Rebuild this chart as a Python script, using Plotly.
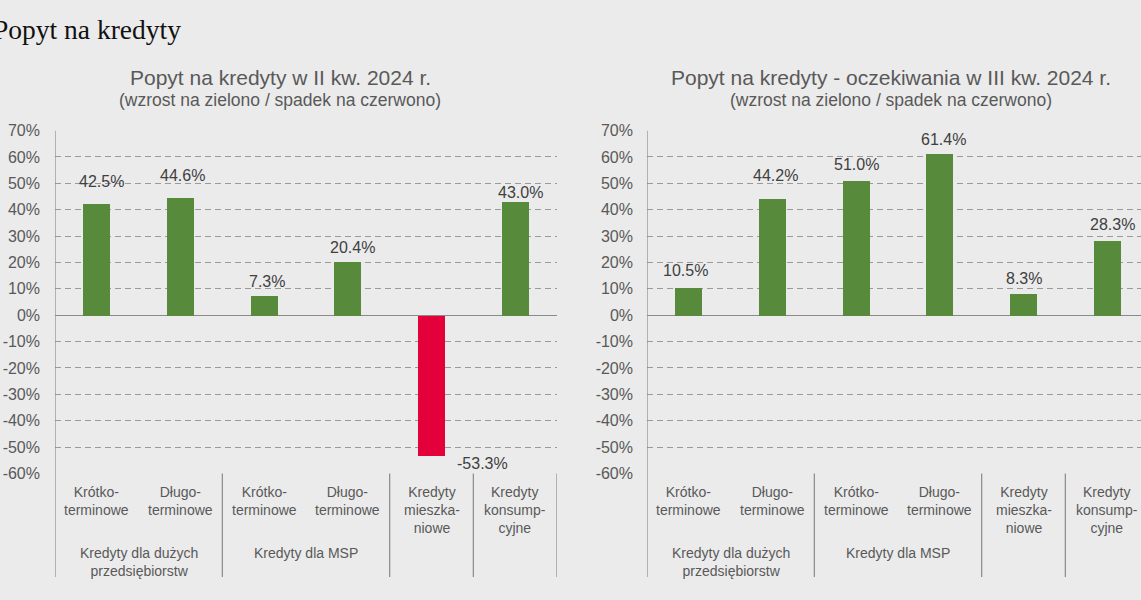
import plotly.graph_objects as go

# ---- data ----
categories = ["Krótko-<br>terminowe", "Długo-<br>terminowe", "Krótko-<br>terminowe",
              "Długo-<br>terminowe", "Kredyty<br>mieszka-<br>niowe", "Kredyty<br>konsump-<br>cyjne"]
groups = ["Kredyty dla dużych<br>przedsiębiorstw", "Kredyty dla MSP"]
group_centers = [0.5, 2.5]
dividers = [-0.5, 1.5, 3.5, 4.5, 5.5]
q2_values = [42.5, 44.6, 7.3, 20.4, -53.3, 43.0]
q3_values = [10.5, 44.2, 51.0, 61.4, 8.3, 28.3]
tick_vals = [70, 60, 50, 40, 30, 20, 10, 0, -10, -20, -30, -40, -50, -60]
tick_text = [f"{v}%" for v in tick_vals]

# ---- styling (label offsets in pixels, as placed in the original) ----
q2_label_shift = [(5, 21), (2, 21), (3, 14), (5, 13), (51, -8), (5, 9)]
q3_label_shift = [(-3, 16), (3, 22), (0, 16), (4, 13), (0, 14), (5, 16)]

GREEN = "#588a3c"
RED = "#e4003a"
BG = "#ebebeb"
GRID = "#9a9a9a"
AXIS = "#8a8a8a"
TXT = "#595959"
VAL = "#404040"
FONT = "Liberation Sans, Arial, sans-serif"

W, H = 1141, 600
VS = 0.9667  # vertical compensation observed in the rendered page


def yp(px):
    """target pixel row -> paper fraction"""
    return 1 - ((px - 10) / VS) / H


y_top_px, y_bot_px, lab_bot_px = 132, 473, 576
ydom = [yp(y_bot_px), yp(y_top_px)]
left_dom = [55 / W, 557 / W]
cat_w = (557 - 55) / 6
right_start = 647
right_dom = [right_start / W, 1.0]
right_range_end = -0.5 + (W - right_start) / cat_w

fig = go.Figure()
xs = list(range(len(categories)))
fig.add_trace(go.Bar(x=xs, y=q2_values, width=0.323,
                     marker_color=[GREEN if v >= 0 else RED for v in q2_values],
                     marker_line_width=0,
                     xaxis="x", yaxis="y", showlegend=False, hoverinfo="skip"))
fig.add_trace(go.Bar(x=xs, y=q3_values, width=0.323,
                     marker_color=[GREEN if v >= 0 else RED for v in q3_values],
                     marker_line_width=0,
                     xaxis="x2", yaxis="y2", showlegend=False, hoverinfo="skip"))

yaxis_common = dict(range=[-60, 70], tickvals=tick_vals, ticktext=tick_text,
                    showgrid=True, gridcolor=GRID, griddash="6px,4px", gridwidth=1,
                    zeroline=True, zerolinecolor=AXIS, zerolinewidth=1.2,
                    showline=False, ticks="",
                    tickfont=dict(family=FONT, size=16, color=TXT), domain=ydom)
xaxis_common = dict(showticklabels=False, showgrid=False, zeroline=False, showline=False, ticks="")

fig.update_layout(
    width=W, height=H, autosize=False,
    margin=dict(l=0, r=0, t=0, b=0, pad=0),
    paper_bgcolor=BG, plot_bgcolor=BG,
    bargap=0,
    xaxis=dict(domain=left_dom, range=[-0.5, 5.5], **xaxis_common),
    yaxis=dict(anchor="x", ticklabelstandoff=14, **yaxis_common),
    xaxis2=dict(domain=right_dom, range=[-0.5, right_range_end], anchor="y2", **xaxis_common),
    yaxis2=dict(anchor="x2", ticklabelstandoff=13, **yaxis_common),
    font=dict(family=FONT, color=TXT),
)

shapes = []
annotations = []
for xa, ya in [("x", "y"), ("x2", "y2")]:
    shapes.append(dict(type="line", xref=xa, yref="paper", x0=-0.5, x1=-0.5,
                       y0=yp(lab_bot_px), y1=ydom[1], line=dict(color=AXIS, width=1.2)))
    for d in dividers[1:]:
        shapes.append(dict(type="line", xref=xa, yref="paper", x0=d, x1=d,
                           y0=yp(lab_bot_px), y1=ydom[0], line=dict(color=AXIS, width=1.2)))
    for i, c in enumerate(categories):
        annotations.append(dict(x=i, y=yp(482), xref=xa, yref="paper", text=c,
                                showarrow=False, xanchor="center", yanchor="top", align="center",
                                font=dict(family=FONT, size=14, color=TXT)))
    for gc, g in zip(group_centers, groups):
        annotations.append(dict(x=gc, y=yp(542), xref=xa, yref="paper", text=g,
                                showarrow=False, xanchor="center", yanchor="top", align="center",
                                font=dict(family=FONT, size=14, color=TXT)))

# value labels
for xa, ya, vals, shifts in [("x", "y", q2_values, q2_label_shift),
                             ("x2", "y2", q3_values, q3_label_shift)]:
    for i, v in enumerate(vals):
        dx, dy = shifts[i]
        annotations.append(dict(x=i, y=v, xref=xa, yref=ya, text=f"{v:.1f}%",
                                showarrow=False, xanchor="center", yanchor="middle",
                                xshift=dx, yshift=dy / VS,
                                font=dict(family=FONT, size=16, color=VAL)))

# titles
for cx, title in [(280, "Popyt na kredyty w II kw. 2024 r."),
                  (891, "Popyt na kredyty - oczekiwania w III kw. 2024 r.")]:
    annotations.append(dict(x=cx / W, y=yp(79), xref="paper", yref="paper",
                            xanchor="center", yanchor="middle",
                            text=title, showarrow=False,
                            font=dict(family=FONT, size=21, color=TXT)))
    annotations.append(dict(x=cx / W, y=yp(102), xref="paper", yref="paper",
                            xanchor="center", yanchor="middle",
                            text="(wzrost na zielono / spadek na czerwono)", showarrow=False,
                            font=dict(family=FONT, size=17.5, color=TXT)))
annotations.append(dict(x=183 / W, y=yp(31), xref="paper", yref="paper",
                        xanchor="right", yanchor="middle",
                        text="Popyt na kredyty", showarrow=False,
                        font=dict(family="Liberation Serif, Times New Roman, serif", size=27.5,
                                  color="#111111")))

fig.update_layout(shapes=shapes, annotations=annotations)
fig.write_html("out.html",
               config={"responsive": False, "displayModeBar": False},
               post_script="document.body.style.margin='0px';document.body.style.overflow='hidden';")
